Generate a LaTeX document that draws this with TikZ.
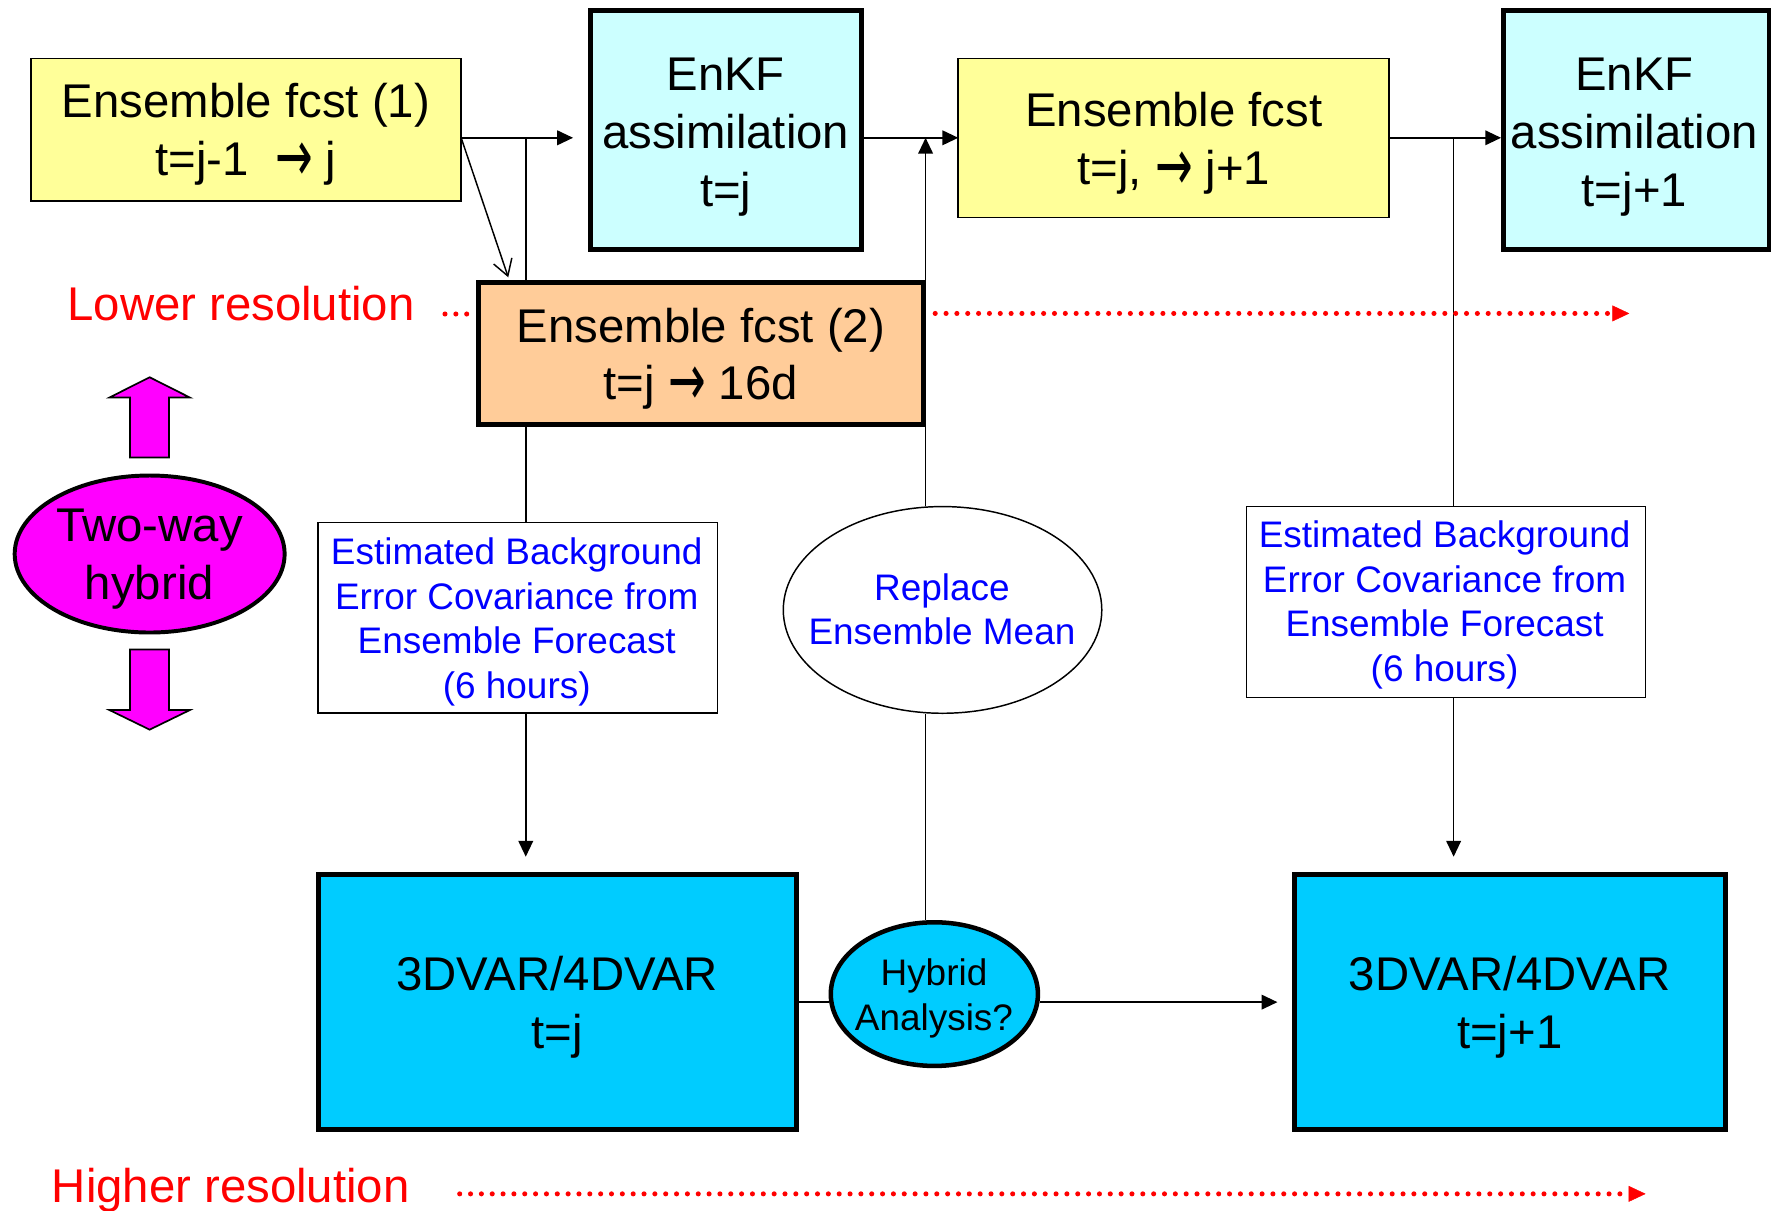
\documentclass[tikz,border=0pt]{standalone}
\usepackage{fontspec}
\setmainfont{Liberation Sans}
\newfontfamily\arrowfont{DejaVu Sans}
\newcommand{\rarr}{\raisebox{-0.12em}{\scalebox{0.95}[1.55]{\arrowfont →}}}
\usetikzlibrary{arrows.meta,shapes.geometric,calc}
\definecolor{fcstyellow}{HTML}{FFFF99}
\definecolor{enkfcyan}{HTML}{CCFFFF}
\definecolor{fcstorange}{HTML}{FFCC99}
\definecolor{varblue}{HTML}{00CCFF}
\definecolor{hybmag}{HTML}{FF00FF}
\definecolor{txtblue}{HTML}{0000FF}
\definecolor{resred}{HTML}{FF0000}
\begin{document}
\begin{tikzpicture}[x=1pt,y=-1pt,
 thinbox/.style={draw=black, line width=1.5pt, rectangle, inner sep=0pt, outer sep=0pt},
 thickbox/.style={draw=black, line width=4.5pt, rectangle, inner sep=0pt, outer sep=0pt},
 bigtxt/.style={inner sep=0pt, anchor=base, align=center, font=\fontsize{41.9}{51.3}\selectfont},
 bluetxt/.style={inner sep=0pt, anchor=base, align=center, text=txtblue, font=\fontsize{32.7}{39.4}\selectfont},
 smalltxt/.style={inner sep=0pt, anchor=base, align=center, font=\fontsize{32.7}{39.4}\selectfont},
 redtxt/.style={inner sep=0pt, anchor=base west, text=resred, font=\fontsize{41.9}{51.3}\selectfont},
 conn/.style={line width=1.3pt, draw=black},
 tipd/.style={-{Triangle[length=14pt,width=13pt]}},
 dots/.style={draw=resred, line width=4.5pt, line cap=round, dash pattern=on 0pt off 9.6pt},
 redtip/.style={-{Triangle[length=15pt,width=14pt,line width=0.4pt]}},
 fatarrow/.style={fill=hybmag, draw=black, line width=1.5pt, line join=miter},
]
\useasboundingbox (0,0) rectangle (1568,1072);

% junction and free-end coordinates
\coordinate (ja) at (465.5,122);
\coordinate (jb) at (819.5,122);
\coordinate (jc) at (1287,122);
\coordinate (da) at (450,245.5);
\coordinate (r1a) at (394,278);
\coordinate (r1b) at (416,278);
\coordinate (r2a) at (828,277.5);
\coordinate (r2b) at (1442.6,277.5);
\coordinate (r3a) at (407,1057);
\coordinate (r3b) at (1457,1057);

% top row
\node[thinbox, fill=fcstyellow, minimum width=381.1pt, minimum height=126.2pt] (e1) at (217.75,114.9) {};
\node[bigtxt] (e1t) at (217.75,155.5) {Ensemble fcst (1)\\t=j-1\ \ \rarr{} j};

\node[thickbox, fill=enkfcyan, minimum width=239.5pt, minimum height=211pt] (k1) at (642.9,115) {};
\node[bigtxt] (k1t) at (642.5,182.4) {EnKF\\assimilation\\t=j};

\node[thinbox, fill=fcstyellow, minimum width=381.4pt, minimum height=140.7pt] (e3) at (1039.1,122.2) {};
\node[bigtxt] (e3t) at (1039.3,163.2) {Ensemble fcst\\t=j, \rarr{} j+1};

\node[thickbox, fill=enkfcyan, minimum width=236pt, minimum height=211pt] (k2) at (1449,115) {};
\node[bigtxt] (k2t) at (1447,182.4) {EnKF\\assimilation\\t=j+1};

\node[thickbox, fill=fcstorange, minimum width=394pt, minimum height=125.4pt] (e2) at (621,312.9) {};
\node[bigtxt] (e2t) at (620.5,354.1) {Ensemble fcst (2)\\t=j \rarr{} 16d};

% red resolution labels
\node[redtxt] (lr) at (59.5,284) {Lower resolution};
\node[redtxt] (hr) at (45.7,1064.8) {Higher resolution};

% two-way hybrid
\node[ellipse, draw=black, line width=3.5pt, fill=hybmag, minimum width=239pt, minimum height=139pt, inner sep=0pt] (tw) at (132.5,490.5) {};
\node[bigtxt] (twt) at (132.3,531) {Two-way\\hybrid};
\draw[fatarrow] (132.5,334) -- (168.2,352) -- (149.6,352) -- (149.6,405) -- (115.1,405) -- (115.1,352) -- (96.8,352) -- cycle;
\draw[fatarrow] (115.1,575) -- (149.6,575) -- (149.6,628.6) -- (168.2,628.6) -- (132.5,646) -- (96.8,628.6) -- (115.1,628.6) -- cycle;

% middle row
\node[thinbox, fill=white, minimum width=353.6pt, minimum height=168.6pt] (b1) at (458.5,547) {};
\node[bluetxt] (b1t) at (457.5,618) {Estimated Background\\Error Covariance from\\Ensemble Forecast\\(6 hours)};

\node[thinbox, fill=white, minimum width=353.1pt, minimum height=169.2pt] (b2) at (1280.25,533) {};
\node[bluetxt] (b2t) at (1279,603) {Estimated Background\\Error Covariance from\\Ensemble Forecast\\(6 hours)};

\node[ellipse, draw=black, line width=1.3pt, fill=white, minimum width=282pt, minimum height=183pt, inner sep=0pt] (rep) at (834.5,540) {};
\node[bluetxt] (rept) at (834,571) {Replace\\Ensemble Mean};

% bottom row
\node[thickbox, fill=varblue, minimum width=423.8pt, minimum height=225.5pt] (var1) at (493.6,887.25) {};
\node[bigtxt] (var1t) at (493.3,928) {3DVAR/4DVAR\\t=j};

\node[thickbox, fill=varblue, minimum width=381.2pt, minimum height=225.5pt] (var2) at (1336.8,887.25) {};
\node[bigtxt] (var2t) at (1336.7,928) {3DVAR/4DVAR\\t=j+1};

\node[ellipse, draw=black, line width=4pt, fill=varblue, minimum width=183.4pt, minimum height=127.2pt, inner sep=0pt] (hyb) at (827.25,880.15) {};
\node[smalltxt] (hybt) at (826.9,912) {Hybrid\\Analysis?};

% connectors
\draw[conn] (e1.east |- ja) -- (ja);
\draw[conn, tipd, shorten >=15.8pt] (ja) -- (k1.west |- ja);
\draw[conn] (ja) -- (ja |- e2.north);
\draw[conn, -{Straight Barb[length=14pt,width=17pt]}] (e1.east |- ja) -- (da);
\draw[conn] (ja |- e2.south) -- (ja |- b1.north);
\draw[conn, tipd, shorten >=16pt] (ja |- b1.south) -- (ja |- var1.north);
\draw[conn, tipd] (k1.east |- jb) -- (e3.west |- jb);
\draw[conn, tipd] (rep.north -| jb) -- (jb);
\draw[conn] (rep.south -| jb) -- (hyb.north -| jb);
\draw[conn] (var1.east) -- (var1.east -| hyb.west);
\draw[conn, tipd, shorten >=15.2pt] (var1.east -| hyb.east) -- (var2.west);
\draw[conn, tipd, shorten >=2pt] (e3.east |- jc) -- (k2.west |- jc);
\draw[conn] (jc) -- (jc |- b2.north);
\draw[conn, tipd, shorten >=16pt] (jc |- b2.south) -- (jc |- var2.north);

% red dotted resolution lines
\draw[dots] (r1a) -- (r1b);
\draw[dots, redtip] (r2a) -- (r2b);
\draw[dots, redtip] (r3a) -- (r3b);
\end{tikzpicture}
\end{document}
